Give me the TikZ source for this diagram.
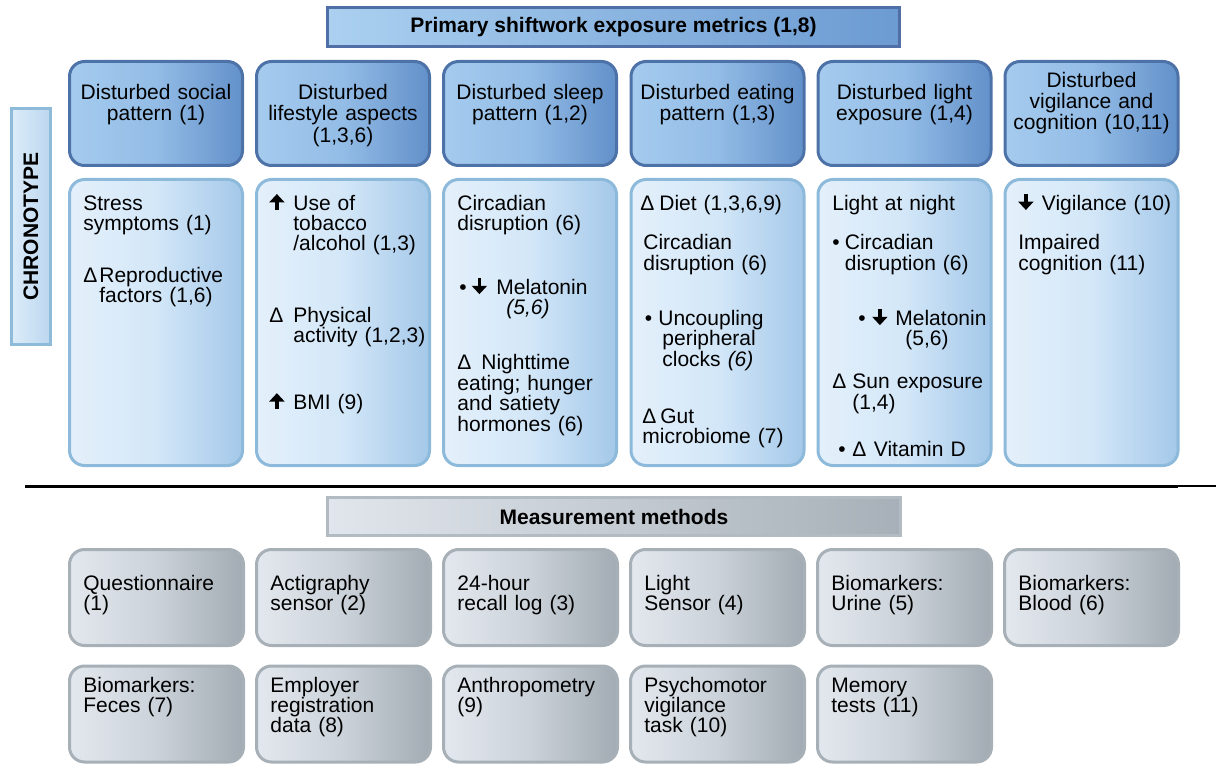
\documentclass[tikz,border=0pt]{standalone}
\usepackage{fontspec}
\setmainfont{Liberation Sans}
\usetikzlibrary{positioning, arrows.meta}

\definecolor{hdlight}{HTML}{A5CBEE}
\definecolor{hdmid}{HTML}{93BCE6}
\definecolor{hddark}{HTML}{6290C9}
\definecolor{hdline}{HTML}{4D72A8}
\definecolor{bxlight}{HTML}{E4F0FB}
\definecolor{bxmid}{HTML}{D3E7F8}
\definecolor{bxdark}{HTML}{A4C8E9}
\definecolor{bxline}{HTML}{8DBADB}
\definecolor{gylight}{HTML}{E3E8EE}
\definecolor{gymid}{HTML}{CBD2D9}
\definecolor{gydark}{HTML}{A2ABB3}
\definecolor{gyline}{HTML}{A8B0B7}
\definecolor{ttlight}{HTML}{ABD0F0}
\definecolor{ttdark}{HTML}{6C9BD2}
\definecolor{ttline}{HTML}{4F6FA6}
\definecolor{crlight}{HTML}{DCECF9}
\definecolor{crdark}{HTML}{BCD7EF}
\definecolor{crline}{HTML}{8FBBDB}
\definecolor{mslight}{HTML}{E1E6EC}
\definecolor{msdark}{HTML}{A7B0B8}
\definecolor{msline}{HTML}{B3BBC2}

\newcommand{\uparr}{\tikz[baseline=0pt]\draw[line width=1.8pt,-{Triangle[length=4.2pt,width=7.5pt]}] (0pt,0pt) -- (0pt,8pt);}
\newcommand{\dnarr}{\tikz[baseline=0pt]\draw[line width=1.8pt,-{Triangle[length=4.2pt,width=7.5pt]}] (0pt,8pt) -- (0pt,0pt);}

\tikzset{
  hdbox/.style={draw=hdline, line width=1.5pt, rounded corners=7.5pt, left color=hdlight, right color=hddark, middle color=hdmid, minimum width=86.5pt, minimum height=52pt, inner sep=0pt},
  bxbox/.style={draw=bxline, line width=1.5pt, rounded corners=7.5pt, left color=bxlight, right color=bxdark, middle color=bxmid, minimum width=86.5pt, minimum height=143pt, inner sep=0pt},
  gybox/.style={draw=gyline, line width=1.5pt, rounded corners=7.5pt, left color=gylight, right color=gydark, middle color=gymid, minimum width=87pt, minimum height=48pt, inner sep=0pt},
  hdtxt/.style={anchor=base, text width=86pt, align=center, inner sep=0pt, font=\fontsize{10.5}{10.5}\selectfont},
  bxtxt/.style={anchor=base west, text width=84pt, align=left, inner sep=0pt, font=\fontsize{10.5}{10.25}\selectfont},
  gytxt/.style={anchor=base west, text width=80pt, align=left, inner sep=0pt, font=\fontsize{10.5}{10}\selectfont}
}

\begin{document}
\begin{tikzpicture}[x=0.5pt, y=-0.5pt]
\useasboundingbox (0,0) rectangle (1216,765);

\node[draw=ttline, line width=1.5pt, left color=ttlight, right color=ttdark, minimum width=286pt, minimum height=19.5pt, inner sep=0pt, font=\bfseries\fontsize{10.5}{12}\selectfont] (title) at (613.5,27) {Primary shiftwork exposure metrics (1,8)};

\node[draw=crline, line width=1.5pt, left color=crlight, right color=crdark, minimum width=19.5pt, minimum height=118pt, inner sep=0pt] (chrono) at (31,226.5) {};
\node[rotate=90, font=\bfseries\fontsize{10.5}{12}\selectfont, inner sep=0pt] (chronot) at (31,226.5) {CHRONOTYPE};

\node[hdbox] (hd1) at (156,113.5) {};
\node[hdbox] (hd2) at (343,113.5) {};
\node[hdbox] (hd3) at (530,113.5) {};
\node[hdbox] (hd4) at (717.5,113.5) {};
\node[hdbox] (hd5) at (904.5,113.5) {};
\node[hdbox] (hd6) at (1091.5,113.5) {};
\node[hdtxt] (hd1t) at (156,100) {Disturbed social\\pattern (1)};
\node[hdtxt] (hd2t) at (343,100) {Disturbed\\lifestyle aspects\\(1,3,6)};
\node[hdtxt] (hd3t) at (530,100) {Disturbed sleep\\pattern (1,2)};
\node[hdtxt] (hd4t) at (717.5,100) {Disturbed eating\\pattern (1,3)};
\node[hdtxt] (hd5t) at (904.5,100) {Disturbed light\\exposure (1,4)};
\node[hdtxt] (hd6t) at (1091.5,88) {Disturbed\\vigilance and\\cognition (10,11)};

\node[bxbox] (bx1) at (156,322.5) {};
\node[bxbox] (bx2) at (343,322.5) {};
\node[bxbox] (bx3) at (530,322.5) {};
\node[bxbox] (bx4) at (717.5,322.5) {};
\node[bxbox] (bx5) at (904.5,322.5) {};
\node[bxbox] (bx6) at (1091.5,322.5) {};

\node[bxtxt] (bx1t) at (83,210) {Stress\\symptoms (1)\\[15.75pt]\makebox[8pt][l]{Δ}Reproductive\\\hspace*{8pt}factors (1,6)};
\node[bxtxt] (bx2t) at (269,210) {\makebox[12pt][l]{\uparr}Use of\\\hspace*{12pt}tobacco\\\hspace*{12pt}/alcohol (1,3)\\[25.25pt]\makebox[12pt][l]{Δ}Physical\\\hspace*{12pt}activity (1,2,3)\\[21.25pt]\makebox[12pt][l]{\uparr}BMI (9)};
\node[bxtxt] (bx3t) at (457,210) {Circadian\\disruption (6)\\[19.75pt]\hspace*{1pt}\makebox[6.25pt][l]{•}\makebox[12.25pt][l]{\dnarr}Melatonin\\\hspace*{24.5pt}\textit{(5,6)}\\[17.25pt]\makebox[12pt][l]{Δ}Nighttime\\eating; hunger\\and satiety\\hormones (6)};
\node[bxtxt] (bx4t) at (640,210) {\makebox[9.5pt][l]{Δ}Diet (1,3,6,9)\\[9.75pt]\hspace*{1.5pt}Circadian\\\hspace*{1.5pt}disruption (6)\\[17.25pt]\hspace*{2.25pt}\makebox[6.75pt][l]{•}Uncoupling\\\hspace*{11pt}peripheral\\\hspace*{11pt}clocks \textit{(6)}\\[18.25pt]\hspace*{1pt}\makebox[9pt][l]{Δ}Gut\\\hspace*{1pt}microbiome (7)};
\node[bxtxt] (bx5t) at (832,210) {Light at night\\[9.75pt]\makebox[6.25pt][l]{•}Circadian\\\hspace*{6.25pt}disruption (6)\\[15.25pt]\hspace*{13pt}\makebox[7pt][l]{•}\makebox[11.5pt][l]{\dnarr}Melatonin\\\hspace*{36.5pt}(5,6)\\[11.25pt]\makebox[10pt][l]{Δ}Sun exposure\\\hspace*{10pt}(1,4)\\[13.25pt]\hspace*{3pt}\makebox[7pt][l]{•}\makebox[10.75pt][l]{Δ}Vitamin D};
\node[bxtxt] (bx6t) at (1018,210) {\makebox[11.75pt][l]{\dnarr}Vigilance (10)\\[9.75pt]Impaired\\cognition (11)};

\draw[line width=1.5pt] (25,486) -- (1178,486);
\draw[line width=1pt] (1178,486) -- (1216,486);

\node[draw=msline, line width=1.5pt, left color=mslight, right color=msdark, minimum width=286.5pt, minimum height=19pt, inner sep=0pt, font=\bfseries\fontsize{10.5}{12}\selectfont] (meas) at (614,516.5) {Measurement methods};

\node[gybox] (ms1) at (156.5,597.5) {};
\node[gybox] (ms2) at (343.5,597.5) {};
\node[gybox] (ms3) at (530.5,597.5) {};
\node[gybox] (ms4) at (717.5,597.5) {};
\node[gybox] (ms5) at (904.5,597.5) {};
\node[gybox] (ms6) at (1091.5,597.5) {};
\node[gybox] (ms7) at (156.5,714) {};
\node[gybox] (ms8) at (343.5,714) {};
\node[gybox] (ms9) at (530.5,714) {};
\node[gybox] (ms10) at (717.5,714) {};
\node[gybox] (ms11) at (904.5,714) {};

\node[gytxt] (ms1t) at (83,590) {Questionnaire\\(1)};
\node[gytxt] (ms2t) at (270,590) {Actigraphy\\sensor (2)};
\node[gytxt] (ms3t) at (457,590) {24-hour\\recall log (3)};
\node[gytxt] (ms4t) at (644,590) {Light\\Sensor (4)};
\node[gytxt] (ms5t) at (831,590) {Biomarkers:\\Urine (5)};
\node[gytxt] (ms6t) at (1018,590) {Biomarkers:\\Blood (6)};
\node[gytxt] (ms7t) at (83,692) {Biomarkers:\\Feces (7)};
\node[gytxt] (ms8t) at (270,692) {Employer\\registration\\data (8)};
\node[gytxt] (ms9t) at (457,692) {Anthropometry\\(9)};
\node[gytxt] (ms10t) at (644,692) {Psychomotor\\vigilance\\task (10)};
\node[gytxt] (ms11t) at (831,692) {Memory\\tests (11)};
\end{tikzpicture}
\end{document}
